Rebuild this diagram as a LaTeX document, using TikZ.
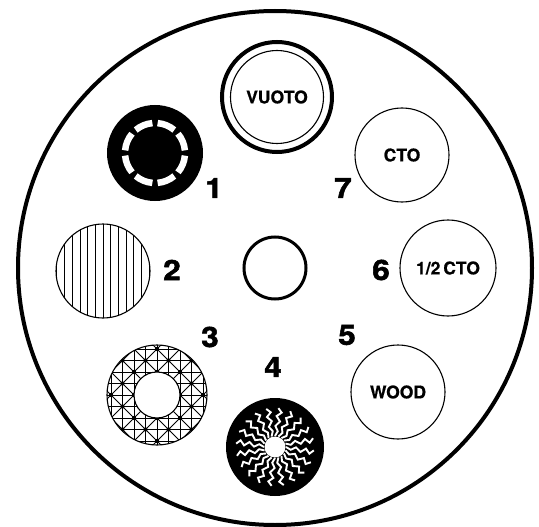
\documentclass[tikz,border=0pt]{standalone}
\usepackage{fontspec}
\setmainfont{TeX Gyre Heros}
\newfontfamily\heavyfont{TeX Gyre Heros}[BoldFeatures={FakeBold=2,FakeStretch=1.12}]
\newfontfamily\semifont{TeX Gyre Heros}[BoldFeatures={FakeBold=0.6}]
\usepackage{tikz}
\usepackage{xcolor}

\begin{document}
\begin{tikzpicture}[x=1pt,y=-1pt,
  numlbl/.style={font=\heavyfont\fontsize{28}{28}\selectfont\bfseries, inner sep=0pt},
  filtertxt/.style={font=\semifont\fontsize{17.5}{17.5}\selectfont\bfseries, inner sep=0pt},
  thinring/.style={line width=1.1pt},
  hatch/.style={line width=0.8pt}]
\useasboundingbox (0,0) rectangle (539,527);

% wheel and centre hole
\coordinate (wheel) at (275,268);
\draw[line width=4pt] (wheel) circle (257);
\draw[line width=3pt] (wheel) circle (31);

% open position
\coordinate (vuoto) at (277,97);
\draw[line width=4pt] (vuoto) circle (55);
\draw[thinring] (vuoto) circle (46.5);
\node[filtertxt] (vuototxt) at (vuoto) {VUOTO};

% gobo 1: black disk, dashed white ring
\begin{scope}[shift={(155,153)}]
\fill (0,0) circle (48);
\foreach \a in {0,45,...,315}
  \draw[white, line width=6.5pt] (\a+5:30) arc (\a+5:\a+40:30);
\end{scope}

% gobo 2: vertical lines
\begin{scope}[shift={(103,271)}]
\begin{scope}
\clip (0,0) circle (47);
\foreach \k in {-6,...,6}
  \draw[hatch] (\k*7.7,-50) -- (\k*7.7,50);
\end{scope}
\draw[thinring] (0,0) circle (47);
\end{scope}

% gobo 3: union jack ring
\begin{scope}[shift={(157,395)}]
\begin{scope}
\clip (0,0) circle (50);
\foreach \k in {-5,...,5} {
  \draw[hatch, line width=1pt] (\k*11.5,-60) -- (\k*11.5,60);
  \draw[hatch, line width=1pt] (-60,\k*11.5) -- (60,\k*11.5);
}
\foreach \k in {-10,-8,...,10} {
  \draw[hatch, line width=1pt] (\k*11.5+60,-60) -- (\k*11.5-60,60);
  \draw[hatch, line width=1pt] (\k*11.5-60,-60) -- (\k*11.5+60,60);
}
\foreach \i in {-5,...,5}
  \foreach \j in {-6,-4,...,6}
    \fill (\i*11.5,{(\j+mod(\i,2))*11.5}) circle (2.1);
\end{scope}
\fill[white] (0,0) circle (23);
\draw[thinring] (0,0) circle (50) (0,0) circle (23);
\end{scope}

% gobo 4: black disk, white zigzag rays
\begin{scope}[shift={(275,447)}]
\fill (0,0) circle (49);
\fill[white] (0,0) circle (10.5);
\foreach \a in {0,18,...,342}
  \draw[white, line width=1.9pt, line join=miter]
    (\a:11) -- (\a+10:16) -- (\a+1:21) -- (\a+11:26) -- (\a+3:31)
    -- (\a+11:35) -- (\a+5:39);
\end{scope}

% colour filters
\coordinate (wood) at (398,392);
\draw[thinring] (wood) circle (47);
\node[filtertxt] (woodtxt) at (wood) {WOOD};

\coordinate (halfcto) at (448,268);
\draw[thinring] (halfcto) circle (48);
\node[filtertxt] (halfctotxt) at (halfcto) {1/2\,CTO};

\coordinate (cto) at (402,155);
\draw[thinring] (cto) circle (47);
\node[filtertxt] (ctotxt) at (cto) {CTO};

% position numbers
\node[numlbl] (n1) at (214,188) {1};
\node[numlbl] (n2) at (172,270) {2};
\node[numlbl] (n3) at (210,337) {3};
\node[numlbl] (n4) at (273,367) {4};
\node[numlbl] (n5) at (347,335) {5};
\node[numlbl] (n6) at (381,270) {6};
\node[numlbl] (n7) at (343,188) {7};
\end{tikzpicture}
\end{document}
